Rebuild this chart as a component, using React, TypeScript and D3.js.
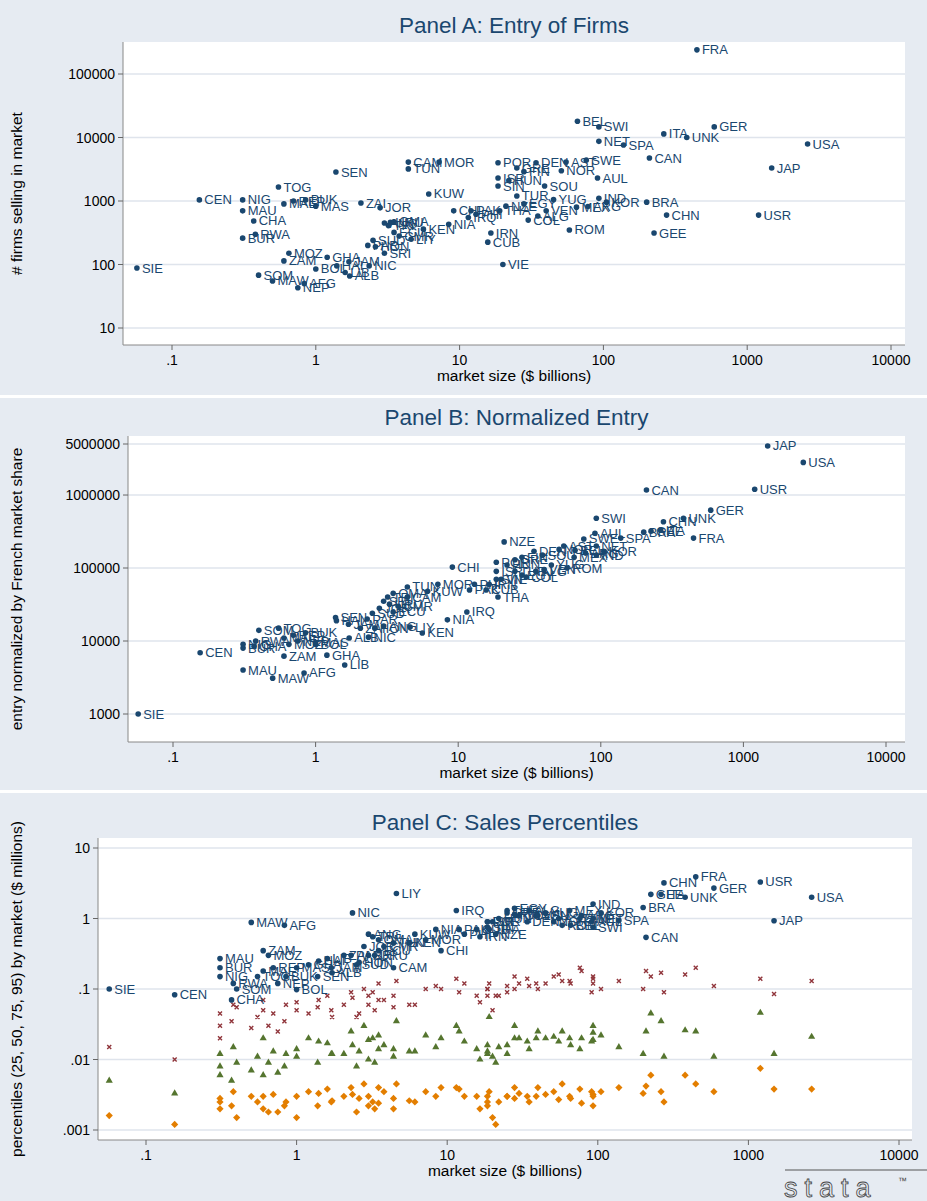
import React from "react";
import * as d3 from "d3";

// [code, market size ($bn), # firms selling, entry normalized by French share]
const entryRows: [string, number, number, number][] = [
  ["SIE",0.057,88,1000],["CEN",0.155,1040,6900],["MAU",0.31,700,4000],["BUR",0.31,260,8000],
  ["NIG",0.31,1040,9000],["CHA",0.37,485,8500],["SOM",0.4,68,14000],["MAW",0.5,55,3100],
  ["RWA",0.38,300,10000],["TOG",0.55,1660,15000],["ZAM",0.6,114,6200],["MOZ",0.65,150,9000],
  ["MAL",0.6,900,11000],["REP",0.7,1000,12000],["AFG",0.83,50,3650],["BUK",0.85,1040,13000],
  ["NEP",0.75,43,10000],["MAS",1.0,830,9500],["BOL",1.0,85,9000],["GHA",1.2,130,6400],
  ["ALB",1.72,66,11000],["HAI",1.4,95,19000],["SEN",1.38,2860,21000],["LIB",1.6,75,4700],
  ["JAM",1.7,110,17000],["ZAI",2.06,930,15000],["NIC",2.35,95,11300],["SUD",2.5,240,24000],
  ["CAM",4.4,4100,40000],["PAR",2.3,200,20000],["ECU",3.5,320,25000],["HON",2.6,190,15000],
  ["JOR",2.8,780,28000],["TUN",4.4,3200,55000],["SRI",3.0,150,35000],["URU",3.3,460,32000],
  ["OMA",3.5,470,45000],["CMR",3.8,280,30000],["TRI",3.2,410,40000],["CHI",9.1,700,103000],
  ["KEN",5.6,360,12900],["LIY",4.6,250,15500],["ANG",3.0,450,16000],["MOR",7.2,4100,60000],
  ["NIA",8.4,430,19500],["KUW",6.1,1290,48000],["PAK",12,700,50000],["IRQ",11.5,550,25000],
  ["PHI",13,620,60000],["SIN",18.5,1720,70000],["ISR",18.5,2300,90000],["NZE",21,830,228000],
  ["IRN",16.5,313,60000],["CUB",15.7,225,50000],["THA",19,700,40000],["VIE",20,100,70000],
  ["POR",18.5,4000,120000],["EGY",28,900,80000],["HUN",22,2100,110000],["GRE",25,3300,130000],
  ["COL",30,500,75000],["FIN",28,2900,140000],["ROM",58,350,100000],["DEN",34,4000,170000],
  ["ALG",35,580,90000],["YUG",45,1050,110000],["VEN",40,700,95000],["NOR",51,3000,180000],
  ["AST",55,4100,200000],["MEX",65,800,140000],["KOR",105,960,170000],["BEL",66,18000,175000],
  ["ARG",78,820,160000],["SWI",93,14700,480000],["SWE",76,4400,250000],["IND",93,1100,150000],
  ["AUL",91,2300,300000],["NET",93,8700,200000],["SPA",138,7600,257000],["BRA",200,960,310000],
  ["CAN",209,4750,1170000],["GEE",225,313,320000],["CHN",275,600,430000],["ITA",263,11400,330000],
  ["UNK",380,10000,480000],["FRA",447,240000,257000],["GER",590,14700,620000],["USR",1200,600,1200000],
  ["JAP",1480,3300,4700000],["USA",2630,7900,2800000],["SOU",39,1720,150000],["TUR",25,1200,90000],
];

// [code, p95, p75, p50, p25] sales percentiles ($ millions)
const salesRows: [string, number, number, number, number][] = [
  ["SIE",0.1,0.015,0.005,0.0016],["CEN",0.083,0.010,0.0033,0.0012],["MAU",0.27,0.03,0.008,0.0025],
  ["BUR",0.2,0.045,0.012,0.0028],["NIG",0.15,0.02,0.006,0.002],["CHA",0.07,0.035,0.005,0.0022],
  ["SOM",0.1,0.055,0.009,0.0015],["MAW",0.88,0.028,0.007,0.003],["RWA",0.12,0.06,0.015,0.0035],
  ["TOG",0.15,0.04,0.011,0.0025],["ZAM",0.35,0.05,0.02,0.003],["MOZ",0.3,0.03,0.009,0.0018],
  ["MAL",0.18,0.07,0.006,0.002],["REP",0.2,0.045,0.013,0.0032],["AFG",0.8,0.035,0.008,0.0022],
  ["BUK",0.15,0.06,0.012,0.0025],["NEP",0.12,0.025,0.0065,0.0018],["MAS",0.2,0.05,0.014,0.003],
  ["BOL",0.098,0.065,0.011,0.0015],["GHA",0.22,0.045,0.02,0.0035],["ALB",0.17,0.04,0.012,0.0026],
  ["HAI",0.25,0.07,0.018,0.0033],["SEN",0.15,0.055,0.009,0.0022],["LIB",0.27,0.08,0.017,0.0038],
  ["JAM",0.2,0.05,0.012,0.0025],["ZAI",0.3,0.06,0.012,0.003],["NIC",1.2,0.075,0.016,0.0032],
  ["SUD",0.22,0.04,0.008,0.0018],["CAM",0.2,0.055,0.011,0.002],["PAR",0.3,0.09,0.025,0.004],
  ["ECU",0.35,0.07,0.014,0.0024],["HON",0.24,0.045,0.013,0.0028],["JOR",0.4,0.1,0.03,0.0045],
  ["TUN",0.45,0.08,0.014,0.0028],["SRI",0.3,0.06,0.01,0.0022],["URU",0.3,0.05,0.009,0.002],
  ["OMA",0.5,0.12,0.022,0.004],["CMR",0.4,0.07,0.016,0.0035],["TRI",0.55,0.09,0.02,0.0025],
  ["CHI",0.35,0.1,0.02,0.004],["KEN",0.45,0.06,0.013,0.0026],["LIY",2.26,0.13,0.035,0.0045],
  ["ANG",0.6,0.08,0.019,0.003],["MOR",0.5,0.1,0.022,0.0035],["NIA",0.7,0.11,0.015,0.003],
  ["KUW",0.6,0.06,0.013,0.0025],["PAK",0.7,0.09,0.025,0.0038],["IRQ",1.3,0.14,0.03,0.004],
  ["PHI",0.6,0.12,0.018,0.003],["SIN",0.75,0.1,0.013,0.0022],["ISR",0.9,0.08,0.012,0.0025],
  ["NZE",0.6,0.08,0.009,0.0012],["IRN",0.55,0.065,0.01,0.002],["CUB",0.7,0.08,0.014,0.003],
  ["THA",0.7,0.12,0.04,0.0035],["VIE",0.9,0.05,0.011,0.0015],["POR",0.9,0.1,0.016,0.003],
  ["EGY",1.4,0.15,0.03,0.004],["HUN",1.0,0.08,0.015,0.0025],["GRE",1.2,0.09,0.012,0.003],
  ["COL",1.1,0.12,0.02,0.0033],["FIN",1.15,0.1,0.02,0.0028],["ROM",0.8,0.13,0.025,0.0045],
  ["DEN",0.9,0.14,0.018,0.003],["ALG",1.3,0.11,0.014,0.0025],["YUG",1.2,0.12,0.02,0.0032],
  ["VEN",1.1,0.1,0.025,0.004],["NOR",0.9,0.15,0.021,0.0035],["AST",1.0,0.16,0.018,0.0027],
  ["MEX",1.3,0.13,0.02,0.003],["KOR",1.2,0.1,0.022,0.0035],["BEL",0.8,0.12,0.016,0.0028],
  ["ARG",1.1,0.18,0.02,0.0024],["SWI",0.75,0.15,0.03,0.0032],["SWE",1.0,0.2,0.014,0.0038],
  ["IND",1.6,0.12,0.024,0.0022],["AUL",0.9,0.09,0.018,0.0035],["NET",1.0,0.14,0.019,0.003],
  ["SPA",0.94,0.13,0.015,0.004],["BRA",1.43,0.1,0.012,0.0033],["CAN",0.54,0.18,0.025,0.0042],
  ["GEE",2.2,0.15,0.045,0.006],["CHN",3.2,0.09,0.011,0.0025],["ITA",2.2,0.17,0.035,0.0035],
  ["UNK",2.0,0.16,0.026,0.006],["FRA",3.9,0.2,0.025,0.0045],["GER",2.7,0.11,0.011,0.0035],
  ["USR",3.3,0.14,0.046,0.0075],["JAP",0.93,0.085,0.012,0.0038],["USA",2.0,0.13,0.021,0.0038],
  ["SOU",1.1,0.12,0.02,0.003],["TUR",1.3,0.11,0.016,0.003],
];

const xTicks = [0.1, 1, 10, 100, 1000, 10000];
const xTickLabels = [".1", "1", "10", "100", "1000", "10000"];
const yTicksA = [10, 100, 1000, 10000, 100000];
const yTicksB = [1000, 10000, 100000, 1000000, 5000000];
const yTicksC = [0.001, 0.01, 0.1, 1, 10];
const yLabelsC = [".001", ".01", ".1", "1", "10"];

const NAVY = "#1a476f";
const MAROON = "#90353b";
const GREEN = "#55752f";
const ORANGE = "#e37e00";
const BG = "#e6ebf2";
const FONT = "'Liberation Sans', Arial, sans-serif";

const sizeOf = new Map(entryRows.map((r) => [r[0], r[1]]));

type PanelProps = {
  top: number; bottom: number; title: string; titleY: number;
  px0: number; px1: number; py0: number; py1: number;
  xr: [number, number]; yd: [number, number]; yr: [number, number];
  yTicks: number[]; yLabels: string[]; yTitle: string; yTitleX: number;
  children: (x: d3.ScaleLogarithmic<number, number>, y: d3.ScaleLogarithmic<number, number>) => React.ReactNode;
};

function Panel(p: PanelProps) {
  const x = d3.scaleLog().domain([0.1, 10000]).range(p.xr);
  const y = d3.scaleLog().domain(p.yd).range(p.yr);
  return (
    <g>
      <rect x={0} y={p.top} width={927} height={p.bottom - p.top} fill={BG} />
      <text x={(p.px0 + p.px1) / 2} y={p.titleY} textAnchor="middle" fontSize={22.5} fill={NAVY}>{p.title}</text>
      <rect x={p.px0} y={p.py0} width={p.px1 - p.px0} height={p.py1 - p.py0} fill="#fff" />
      {p.yTicks.map((t) => (
        <line key={t} x1={p.px0} x2={p.px1} y1={y(t)} y2={y(t)} stroke="#dfe4ec" strokeWidth={1.5} />
      ))}
      <line x1={p.px0} x2={p.px0} y1={p.py0} y2={p.py1} stroke="#888" />
      <line x1={p.px0} x2={p.px1} y1={p.py1} y2={p.py1} stroke="#888" />
      {p.yTicks.map((t, i) => (
        <g key={t}>
          <line x1={p.px0 - 5} x2={p.px0} y1={y(t)} y2={y(t)} stroke="#666" />
          <text x={p.px0 - 8} y={y(t) + 5} textAnchor="end" fontSize={14} fill="#000">{p.yLabels[i]}</text>
        </g>
      ))}
      {xTicks.map((t, i) => (
        <g key={t}>
          <line x1={x(t)} x2={x(t)} y1={p.py1} y2={p.py1 + 5} stroke="#666" />
          <text x={x(t)} y={p.py1 + 20} textAnchor="middle" fontSize={14} fill="#000">{xTickLabels[i]}</text>
        </g>
      ))}
      <text x={(p.px0 + p.px1) / 2} y={p.py1 + 36} textAnchor="middle" fontSize={15.5} fill="#000">market size ($ billions)</text>
      <text transform={`translate(${p.yTitleX},${(p.py0 + p.py1) / 2}) rotate(-90)`} textAnchor="middle" fontSize={15.5} fill="#000">{p.yTitle}</text>
      {p.children(x, y)}
    </g>
  );
}

function LabeledDots({ pts, x, y }: { pts: [string, number, number][]; x: any; y: any }) {
  return (
    <g>
      {pts.map(([c, sx, sy]) => (
        <g key={c}>
          <circle cx={x(sx)} cy={y(sy)} r={2.8} fill={NAVY} />
          <text x={x(sx) + 5} y={y(sy) + 4.5} fontSize={13} fill={NAVY}>{c}</text>
        </g>
      ))}
    </g>
  );
}

export default function App() {
  const ptsA = entryRows.map((r) => [r[0], r[1], r[2]] as [string, number, number]);
  const ptsB = entryRows.map((r) => [r[0], r[1], r[3]] as [string, number, number]);
  const ptsC = salesRows.map((r) => [r[0], sizeOf.get(r[0])!, r[1]] as [string, number, number]);
  const tri = d3.symbol(d3.symbolTriangle, 22)()!;
  const dia = d3.symbol(d3.symbolSquare, 26)()!;
  return (
    <svg width={927} height={1201} style={{ position: "absolute", left: 0, top: 0, fontFamily: FONT }}>
      <rect width={927} height={1201} fill="#fff" />
      <Panel top={0} bottom={395} title="Panel A: Entry of Firms" titleY={33}
        px0={123} px1={905} py0={42} py1={345} xr={[172, 891]} yd={[10, 100000]} yr={[328, 74]}
        yTicks={yTicksA} yLabels={yTicksA.map(String)} yTitle="# firms selling in market" yTitleX={22}>
        {(x, y) => <LabeledDots pts={ptsA} x={x} y={y} />}
      </Panel>
      <Panel top={398} bottom={790} title="Panel B: Normalized Entry" titleY={425}
        px0={128} px1={905} py0={436} py1={742} xr={[173, 886]} yd={[1000, 5000000]} yr={[714, 444]}
        yTicks={yTicksB} yLabels={yTicksB.map(String)} yTitle="entry normalized by French market share" yTitleX={22}>
        {(x, y) => <LabeledDots pts={ptsB} x={x} y={y} />}
      </Panel>
      <Panel top={793} bottom={1201} title="Panel C: Sales Percentiles" titleY={830}
        px0={98} px1={912} py0={838} py1={1140} xr={[146, 899]} yd={[0.001, 10]} yr={[1130, 848]}
        yTicks={yTicksC} yLabels={yLabelsC} yTitle="percentiles (25, 50, 75, 95) by market ($ millions)" yTitleX={22}>
        {(x, y) => (
          <g>
            {salesRows.map((r) => {
              const cx = x(sizeOf.get(r[0])!);
              return (
                <g key={r[0]}>
                  <path d={`M${cx - 2},${y(r[2]) - 2}L${cx + 2},${y(r[2]) + 2}M${cx - 2},${y(r[2]) + 2}L${cx + 2},${y(r[2]) - 2}`} stroke={MAROON} strokeWidth={1.4} />
                  <path d={tri} transform={`translate(${cx},${y(r[3])})`} fill={GREEN} />
                  <path d={dia} transform={`translate(${cx},${y(r[4])}) rotate(45)`} fill={ORANGE} />
                </g>
              );
            })}
            <LabeledDots pts={ptsC} x={x} y={y} />
          </g>
        )}
      </Panel>
      <line x1={785} x2={927} y1={1170} y2={1170} stroke="#555" />
      <text x={784} y={1197} fontSize={27} fill="none" stroke="#444" strokeWidth={0.8} letterSpacing={7}>stata</text>
      <text x={898} y={1184} fontSize={9} fill="#444">™</text>
    </svg>
  );
}
